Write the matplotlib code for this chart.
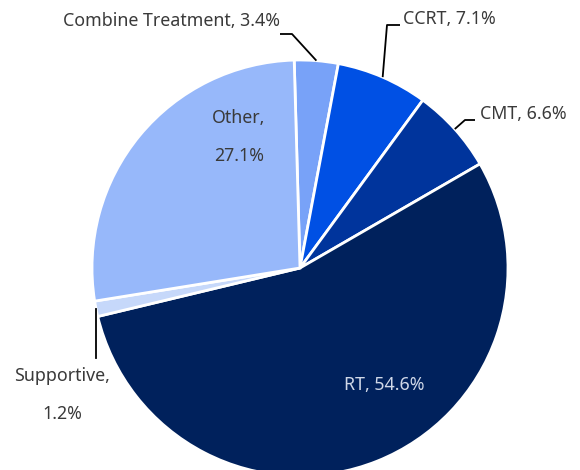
import numpy as np
import matplotlib
matplotlib.use("Agg")
import matplotlib.pyplot as plt

# treatment share (%), clockwise from the top
labels = ["Combine Treatment", "CCRT", "CMT", "RT", "Supportive", "Other"]
shares = [3.4, 7.1, 6.6, 54.6, 1.2, 27.1]
colors = ["#78A2F8", "#0050E4", "#00349C", "#00215C", "#C6D8FA", "#97B8FA"]

plt.rcParams["font.family"] = ["Noto Sans", "DejaVu Sans"]

fig = plt.figure(figsize=(5.8, 4.7), dpi=100)
ax = fig.add_axes([0, 0, 1, 1])

R = 208
start = 91.6
wedges, _ = ax.pie(shares, colors=colors, startangle=start, counterclock=False,
                   radius=R, center=(0, 0),
                   wedgeprops=dict(edgecolor="white", linewidth=2))
ax.set_xlim(-300, 280)
ax.set_ylim(-202, 268)
ax.set_aspect("equal")
ax.axis("off")

txt = "#3a3a3a"
fs = 12.8


def edge_point(i):
    # middle of the wedge on its outer rim
    w = wedges[i]
    ang = np.deg2rad((w.theta1 + w.theta2) / 2)
    return R * np.cos(ang), R * np.sin(ang)


def leader(i, elbow, end):
    x0, y0 = edge_point(i)
    ax.plot([x0, elbow[0], end[0]], [y0, elbow[1], end[1]],
            color="black", lw=1.3, solid_capstyle="butt")


# Combine Treatment
leader(0, (-8, 234), (-20, 234))
ax.text(-20, 247, f"{labels[0]}, {shares[0]}%", ha="right", va="center",
        fontsize=fs, color=txt)
# CCRT
leader(1, (87, 243), (100, 243))
ax.text(103, 249, f"{labels[1]}, {shares[1]}%", ha="left", va="center",
        fontsize=fs, color=txt)
# CMT
leader(2, (165, 148), (175, 148))
ax.text(180, 154, f"{labels[2]}, {shares[2]}%", ha="left", va="center",
        fontsize=fs, color=txt)
# Supportive
x0, y0 = edge_point(4)
ax.plot([x0, x0], [y0, -90], color="black", lw=1.3)
ax.text(-238, -127, f"{labels[4]},\n\n{shares[4]}%", ha="center", va="center",
        fontsize=fs, color=txt, linespacing=1.05)
# Other (inside)
ax.text(-61, 131, f"{labels[5]},\n\n{shares[5]}%", ha="center", va="center",
        fontsize=fs, color=txt, linespacing=1.05)
# RT (inside)
ax.text(84, -117, f"{labels[3]}, {shares[3]}%", ha="center", va="center",
        fontsize=fs, color="#D0D8E8")

fig.savefig("out.png", dpi=100)
